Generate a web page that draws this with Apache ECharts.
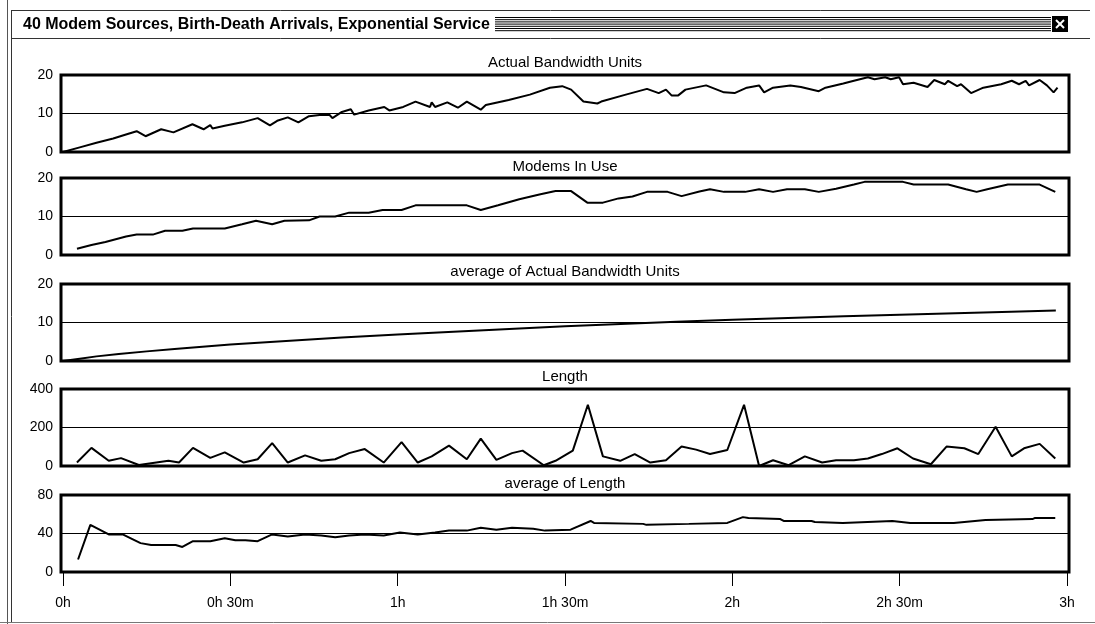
<!DOCTYPE html>
<html><head><meta charset="utf-8">
<script src="https://cdn.jsdelivr.net/npm/echarts@6/dist/echarts.min.js"></script>
<style>html,body{margin:0;padding:0;background:#fff}#c{width:1095px;height:624px}</style>
</head><body><div id="c"></div>
<script>
// ---- texts ----
const windowTitle = '40 Modem Sources, Birth-Death Arrivals, Exponential Service';
const panelTitles = ['Actual Bandwidth Units', 'Modems In Use', 'average of Actual Bandwidth Units', 'Length', 'average of Length'];
const yMax = [20, 20, 20, 400, 80];
const tickMinutes = [0, 30, 60, 90, 120, 150, 180];
const tickLabels = ['0h', '0h 30m', '1h', '1h 30m', '2h', '2h 30m', '3h'];

// ---- data (time in minutes) ----
const bwTime = [0,3,6,9,11,13.2,14.8,17.6,19.8,23.2,25.2,26.4,26.8,29,32.1,34.9,37.1,38.4,40.3,42.2,44.1,46,47.8,48.3,50,51.6,52.2,54.8,57.6,58.5,61,63.2,65.8,66.1,66.7,68.9,70.8,72.4,74.9,75.8,79.9,83.7,87.3,89.5,91.1,93.3,95.8,96.5,100.9,104.7,106.8,108.1,109.1,110.3,111.6,115.3,118.5,120.4,122.6,124.8,125.7,127.3,130.4,132.3,135.5,136.7,139.9,141.8,144.3,145.5,147.4,148.4,149.9,150.6,152.5,155,156.2,158.1,158.7,160.3,161,162.8,165,168.2,170.1,171.4,172.6,173.2,175.1,176.4,177.6,178.3];
const bwValue = [0,1.2,2.4,3.5,4.4,5.4,4.1,5.9,5.1,7.2,5.9,7.0,6.1,6.8,7.7,8.8,6.9,8.1,9.0,7.7,9.3,9.6,9.6,8.8,10.4,11.1,9.7,10.8,11.7,10.8,11.7,13.1,11.7,12.9,11.7,12.9,11.5,13.1,11.0,12.2,13.5,14.9,16.7,17.1,16.2,13.1,12.6,13.1,14.9,16.4,15.3,16.2,14.7,14.7,16.2,17.3,15.5,15.3,16.7,17.3,15.5,16.7,17.3,16.9,15.8,16.7,17.8,18.5,19.4,18.9,19.4,18.9,19.4,17.6,18.0,16.9,18.7,17.6,18.5,17.1,17.6,15.3,16.7,17.6,18.5,17.6,18.5,17.3,18.7,17.3,15.5,16.7];

const modemTime = [2.5,5.1,7.6,11.3,13.2,16.1,18.3,21.4,23.3,29,32.1,34.6,37.5,39.7,44.1,46,48.8,51.3,54.8,57.3,60.7,63.2,72.4,74.9,78,81.8,85.6,88.3,91.1,94,96.8,99.6,102.1,104.7,108.4,110.9,114.1,116,118.5,122.3,124.8,127.3,129.8,133,135.5,138.6,141.8,143.7,150.6,152.5,158.7,161.9,163.8,165.7,169.4,175.1,177.9];
const modemValue = [1.6,2.6,3.4,4.8,5.3,5.3,6.3,6.3,6.9,6.9,8,8.9,8,8.9,9,10,10,11,11,11.7,11.7,12.9,12.9,11.7,12.9,14.5,15.8,16.6,16.6,13.6,13.6,14.7,15.2,16.4,16.4,15.3,16.5,17.1,16.4,16.4,17.1,16.4,17.1,17.1,16.4,17.2,18.3,19,19,18.3,18.3,17.1,16.4,17.1,18.3,18.3,16.4];

const avgBwTime = [0,3,6,10,15,20,25,30,40,50,60,70,80,90,100,110,120,130,140,150,160,170,178];
const avgBwValue = [0,0.6,1.2,1.8,2.5,3.1,3.7,4.3,5.2,6.1,6.9,7.6,8.3,9.0,9.6,10.2,10.7,11.2,11.6,12.0,12.4,12.8,13.1];

const lenTime = [2.5,5.1,8.2,10.4,13.6,15.8,18.9,20.8,23.3,26.4,29,32.4,34.9,37.5,40.3,43.4,46.3,48.8,51.3,54.1,57.5,60.7,63.6,66.1,69.2,72.4,74.9,77.7,80.5,82.4,86.2,88.3,91.4,94.1,96.8,99.9,102.5,105.3,108.1,110.9,113.5,116,119.1,122.1,124.8,127.3,130.1,133,136.1,138.6,141.8,144.3,146.8,149.6,152.4,155.6,158.4,161.6,164.1,167.2,170.1,172.3,175.1,177.9];
const lenValue = [18,94,27,41,5,14,27,18,94,42,71,18,35,119,18,55,27,35,67,88,18,124,18,50,106,35,142,32,67,80,4,27,80,318,50,27,62,18,30,101,85,62,83,318,0,30,4,50,18,30,30,39,62,92,39,9,101,92,62,204,50,92,115,39];

const avgLenTime = [2.7,4.9,8.2,10.7,13.9,15.8,20.2,21.4,23.3,26.4,29,30.9,32.7,34.9,37.5,40.3,43.4,46.3,48.8,51.3,54.1,57.5,60.4,63.6,66.7,69.2,72.4,74.9,77.7,80.5,84.3,86.4,91,94.6,95.2,104,104.6,112.2,119.1,121.9,122.9,128.6,129.2,134.2,134.8,139.8,148.7,151.9,159.7,160,165.4,165.7,173.8,174.2,177.9];
const avgLenValue = [13,49,39,39,30,28,28,26,32,32,35,33,33,32,39,37,39,38,36,38,39,38,41,39,41,43,43,46,44,46,45,43,44,53,51,50,49,50,51,57,56,55,53,53,52,51,53,51,51,53,54,55,55,56,56];

const seriesTimes = [bwTime, modemTime, avgBwTime, lenTime, avgLenTime];
const seriesValues = [bwValue, modemValue, avgBwValue, lenValue, avgLenValue];

// ---- layout ----
const FONT = '"Liberation Sans", Arial, sans-serif';
const gridLeft = 61, gridWidth = 1008, gridHeight = 77;
const gridTops = [75, 178, 284, 389, 495];
const titleCenters = [64, 168, 273, 378, 485];

const chart = echarts.init(document.getElementById('c'), null, {renderer: 'canvas'});

const grids = [], xAxes = [], yAxes = [], series = [], titles = [];
for (let i = 0; i < 5; i++) {
  const last = i === 4;
  grids.push({left: gridLeft, top: gridTops[i], width: gridWidth, height: gridHeight,
    show: true, borderColor: '#000', borderWidth: 3, backgroundColor: 'transparent', containLabel: false});
  xAxes.push({type: 'value', gridIndex: i, min: -0.36, max: 180.36,
    axisLine: {show: false},
    axisTick: {show: last, customValues: tickMinutes, length: 14, lineStyle: {color: '#000', width: 1}},
    axisLabel: {show: last, customValues: tickMinutes, margin: 24, color: '#000', fontSize: 14, fontFamily: FONT,
      formatter: v => { const k = tickMinutes.indexOf(Math.round(v)); return k >= 0 ? tickLabels[k] : ''; }},
    splitLine: {show: false}});
  yAxes.push({type: 'value', gridIndex: i, min: 0, max: yMax[i], interval: yMax[i] / 2,
    axisLine: {show: false}, axisTick: {show: false},
    axisLabel: {color: '#000', fontSize: 14, fontFamily: FONT, margin: 8},
    splitLine: {show: true, lineStyle: {color: '#000', width: 1}}});
  series.push({type: 'line', xAxisIndex: i, yAxisIndex: i, showSymbol: false, symbol: 'none',
    lineStyle: {color: '#000', width: 2}, animation: false,
    data: seriesTimes[i].map((t, k) => [t, seriesValues[i][k]])});
  titles.push({text: panelTitles[i], left: gridLeft + gridWidth / 2, top: titleCenters[i] - 9, textAlign: 'center', padding: 0,
    textStyle: {fontSize: 15, fontWeight: 'normal', color: '#000', fontFamily: FONT}});
}
titles.push({text: windowTitle, left: 23, top: 17, padding: 0,
  textStyle: {fontSize: 16, fontWeight: 'bold', color: '#000', fontFamily: FONT}});

// window chrome
const graphics = [];
const line = (x1, y1, x2, y2, c, w) => ({type: 'line', shape: {x1, y1, x2, y2}, style: {stroke: c || '#000', lineWidth: w || 1}, silent: true});
graphics.push(line(11.5, 11, 11.5, 622, '#333'));
graphics.push(line(7.5, 0, 7.5, 624, '#555'));
graphics.push(line(11, 10.5, 1090, 10.5, '#333'));
graphics.push(line(11, 38.5, 1090, 38.5, '#333'));
graphics.push(line(0, 622.5, 1095, 622.5, '#777'));
for (let k = 0; k < 7; k++) graphics.push(line(495, 17.5 + k * 2.2, 1051, 17.5 + k * 2.2, '#000'));
graphics.push({type: 'rect', shape: {x: 1052, y: 16, width: 16, height: 16}, style: {fill: '#000'}, silent: true});
graphics.push(line(1056, 20, 1064, 28, '#fff', 2));
graphics.push(line(1064, 20, 1056, 28, '#fff', 2));

chart.setOption({
  animation: false,
  backgroundColor: '#fff',
  title: titles,
  grid: grids, xAxis: xAxes, yAxis: yAxes, series: series,
  graphic: graphics
});
</script></body></html>
